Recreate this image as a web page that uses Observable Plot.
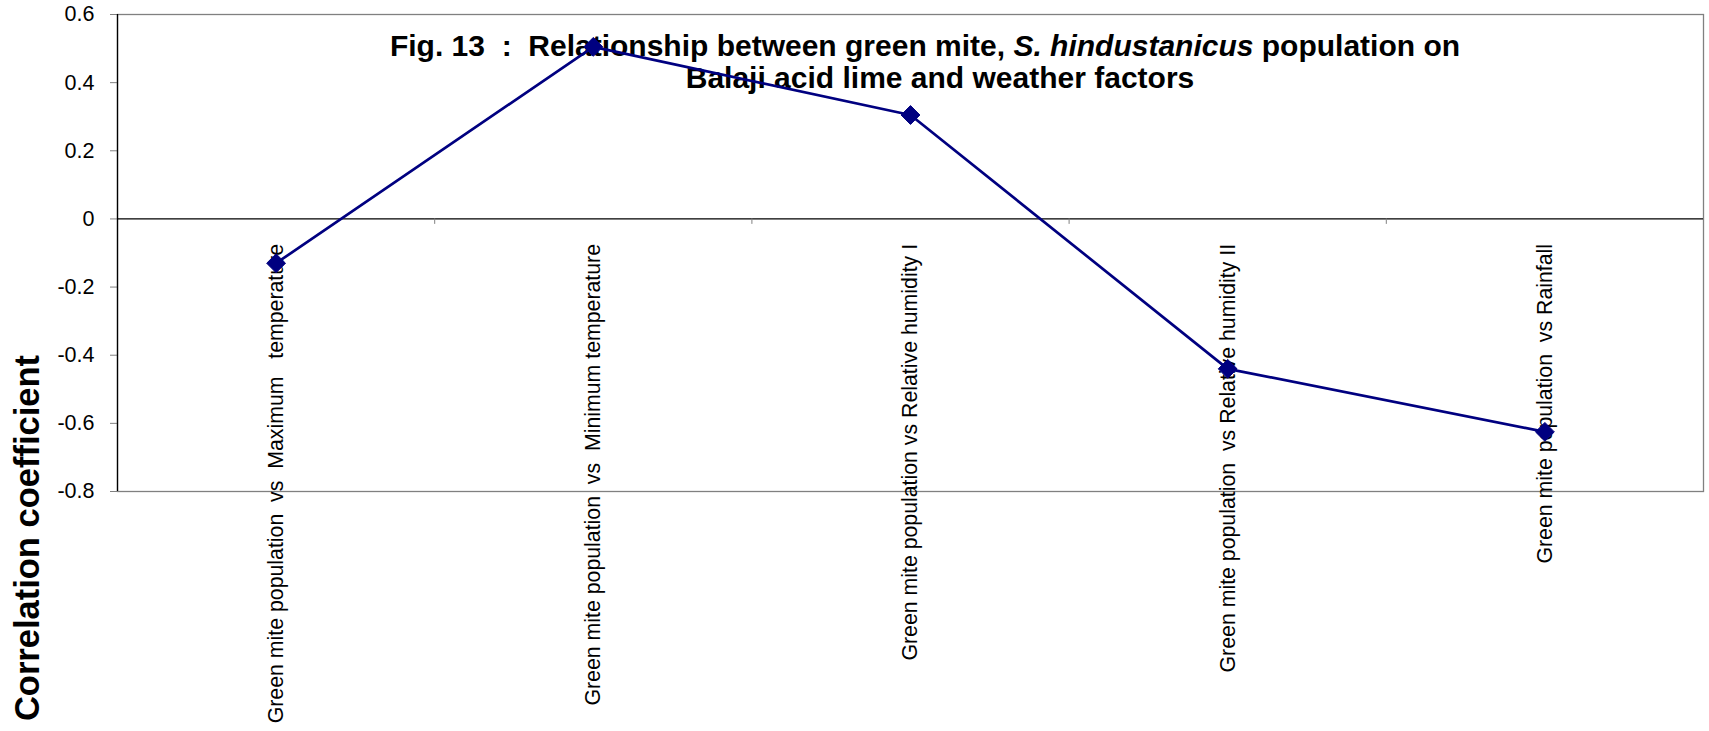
<!DOCTYPE html>
<html>
<head>
<meta charset="utf-8">
<script src="https://cdn.jsdelivr.net/npm/d3@7"></script>
<script src="https://cdn.jsdelivr.net/npm/@observablehq/plot@0.6"></script>
<style>
  html, body { margin: 0; padding: 0; background: #fff; }
  #chart { position: relative; width: 1709px; height: 731px; }
  svg text { white-space: pre; }
</style>
</head>
<body>
<div id="chart"></div>
<script>
// ---- data ----
const categories = [
  "Green mite population  vs  Maximum   temperature",
  "Green mite population  vs  Minimum temperature",
  "Green mite population vs Relative humidity I",
  "Green mite population  vs Relative humidity II",
  "Green mite population  vs Rainfall"
];
const values = [-0.13, 0.505, 0.305, -0.44, -0.625];
const yTicks = [-0.8, -0.6, -0.4, -0.2, 0, 0.2, 0.4, 0.6];
const yTickLabels = ["-0.8", "-0.6", "-0.4", "-0.2", "0", "0.2", "0.4", "0.6"];
const titleLine1a = "Fig. 13  :  Relationship between green mite, ";
const titleItalic = "S. hindustanicus";
const titleLine1b = " population on";
const titleLine2 = "Balaji acid lime and weather factors";
const yLabel = "Correlation coefficient";

const rows = categories.map((c, i) => ({idx: i + 1, cat: c, value: values[i]}));
const boundaries = categories.slice(1).map((_, i) => i + 1.5);

const font = "'Liberation Sans', Arial, Helvetica, sans-serif";
const navy = "#000080";
const grey = "#808080";

const svg = Plot.plot({
  width: 1709,
  height: 731,
  marginLeft: 117,
  marginRight: 6,
  marginTop: 14,
  marginBottom: 240,
  style: {fontFamily: font, fontSize: "21px", color: "black", background: "white", overflow: "visible"},
  x: {type: "linear", domain: [0.5, categories.length + 0.5], axis: null},
  y: {domain: [-0.8, 0.6], label: null, axis: null},
  marks: [
    Plot.frame({stroke: grey, strokeWidth: 1.3}),
    Plot.axisY(yTicks, {
      tickSize: 7, tickPadding: 16,
      tickFormat: (d, i) => yTickLabels[i],
      color: "black", stroke: grey, fontSize: 21.5, label: null
    }),
    Plot.ruleX([0.5], {stroke: "black", strokeWidth: 1.3}),
    Plot.ruleY([0], {stroke: "black", strokeWidth: 1.3}),
    Plot.ruleX(boundaries, {y1: 0, y2: -0.016, stroke: grey}),
    Plot.text(rows, {
      x: "idx", y: () => 0, text: "cat", rotate: -90, textAnchor: "end",
      dy: 25, fontSize: 21.3, fill: "black"
    }),
    Plot.line(rows, {x: "idx", y: "value", stroke: navy, strokeWidth: 2.7}),
    Plot.dot(rows, {x: "idx", y: "value", symbol: "diamond2", r: 8.5, fill: navy, stroke: navy, strokeWidth: 1})
  ]
});

// title (drawn beneath the marks, as in the reference)
const s = d3.select(svg);
const tg = s.insert("g", "g").attr("font-family", font).attr("font-weight", "bold").attr("font-size", 30).attr("fill", "black");
const t1 = tg.append("text").attr("x", 925).attr("y", 56).attr("text-anchor", "middle");
t1.append("tspan").text(titleLine1a);
t1.append("tspan").attr("font-style", "italic").text(titleItalic);
t1.append("tspan").text(titleLine1b);
tg.append("text").attr("x", 940).attr("y", 88).attr("text-anchor", "middle").text(titleLine2);

// y-axis title
s.append("text")
  .attr("transform", "translate(39,538) rotate(-90)")
  .attr("text-anchor", "middle")
  .attr("font-family", font).attr("font-weight", "bold").attr("font-size", 34.5)
  .attr("fill", "black")
  .text(yLabel);

document.getElementById("chart").appendChild(svg);
</script>
</body>
</html>
